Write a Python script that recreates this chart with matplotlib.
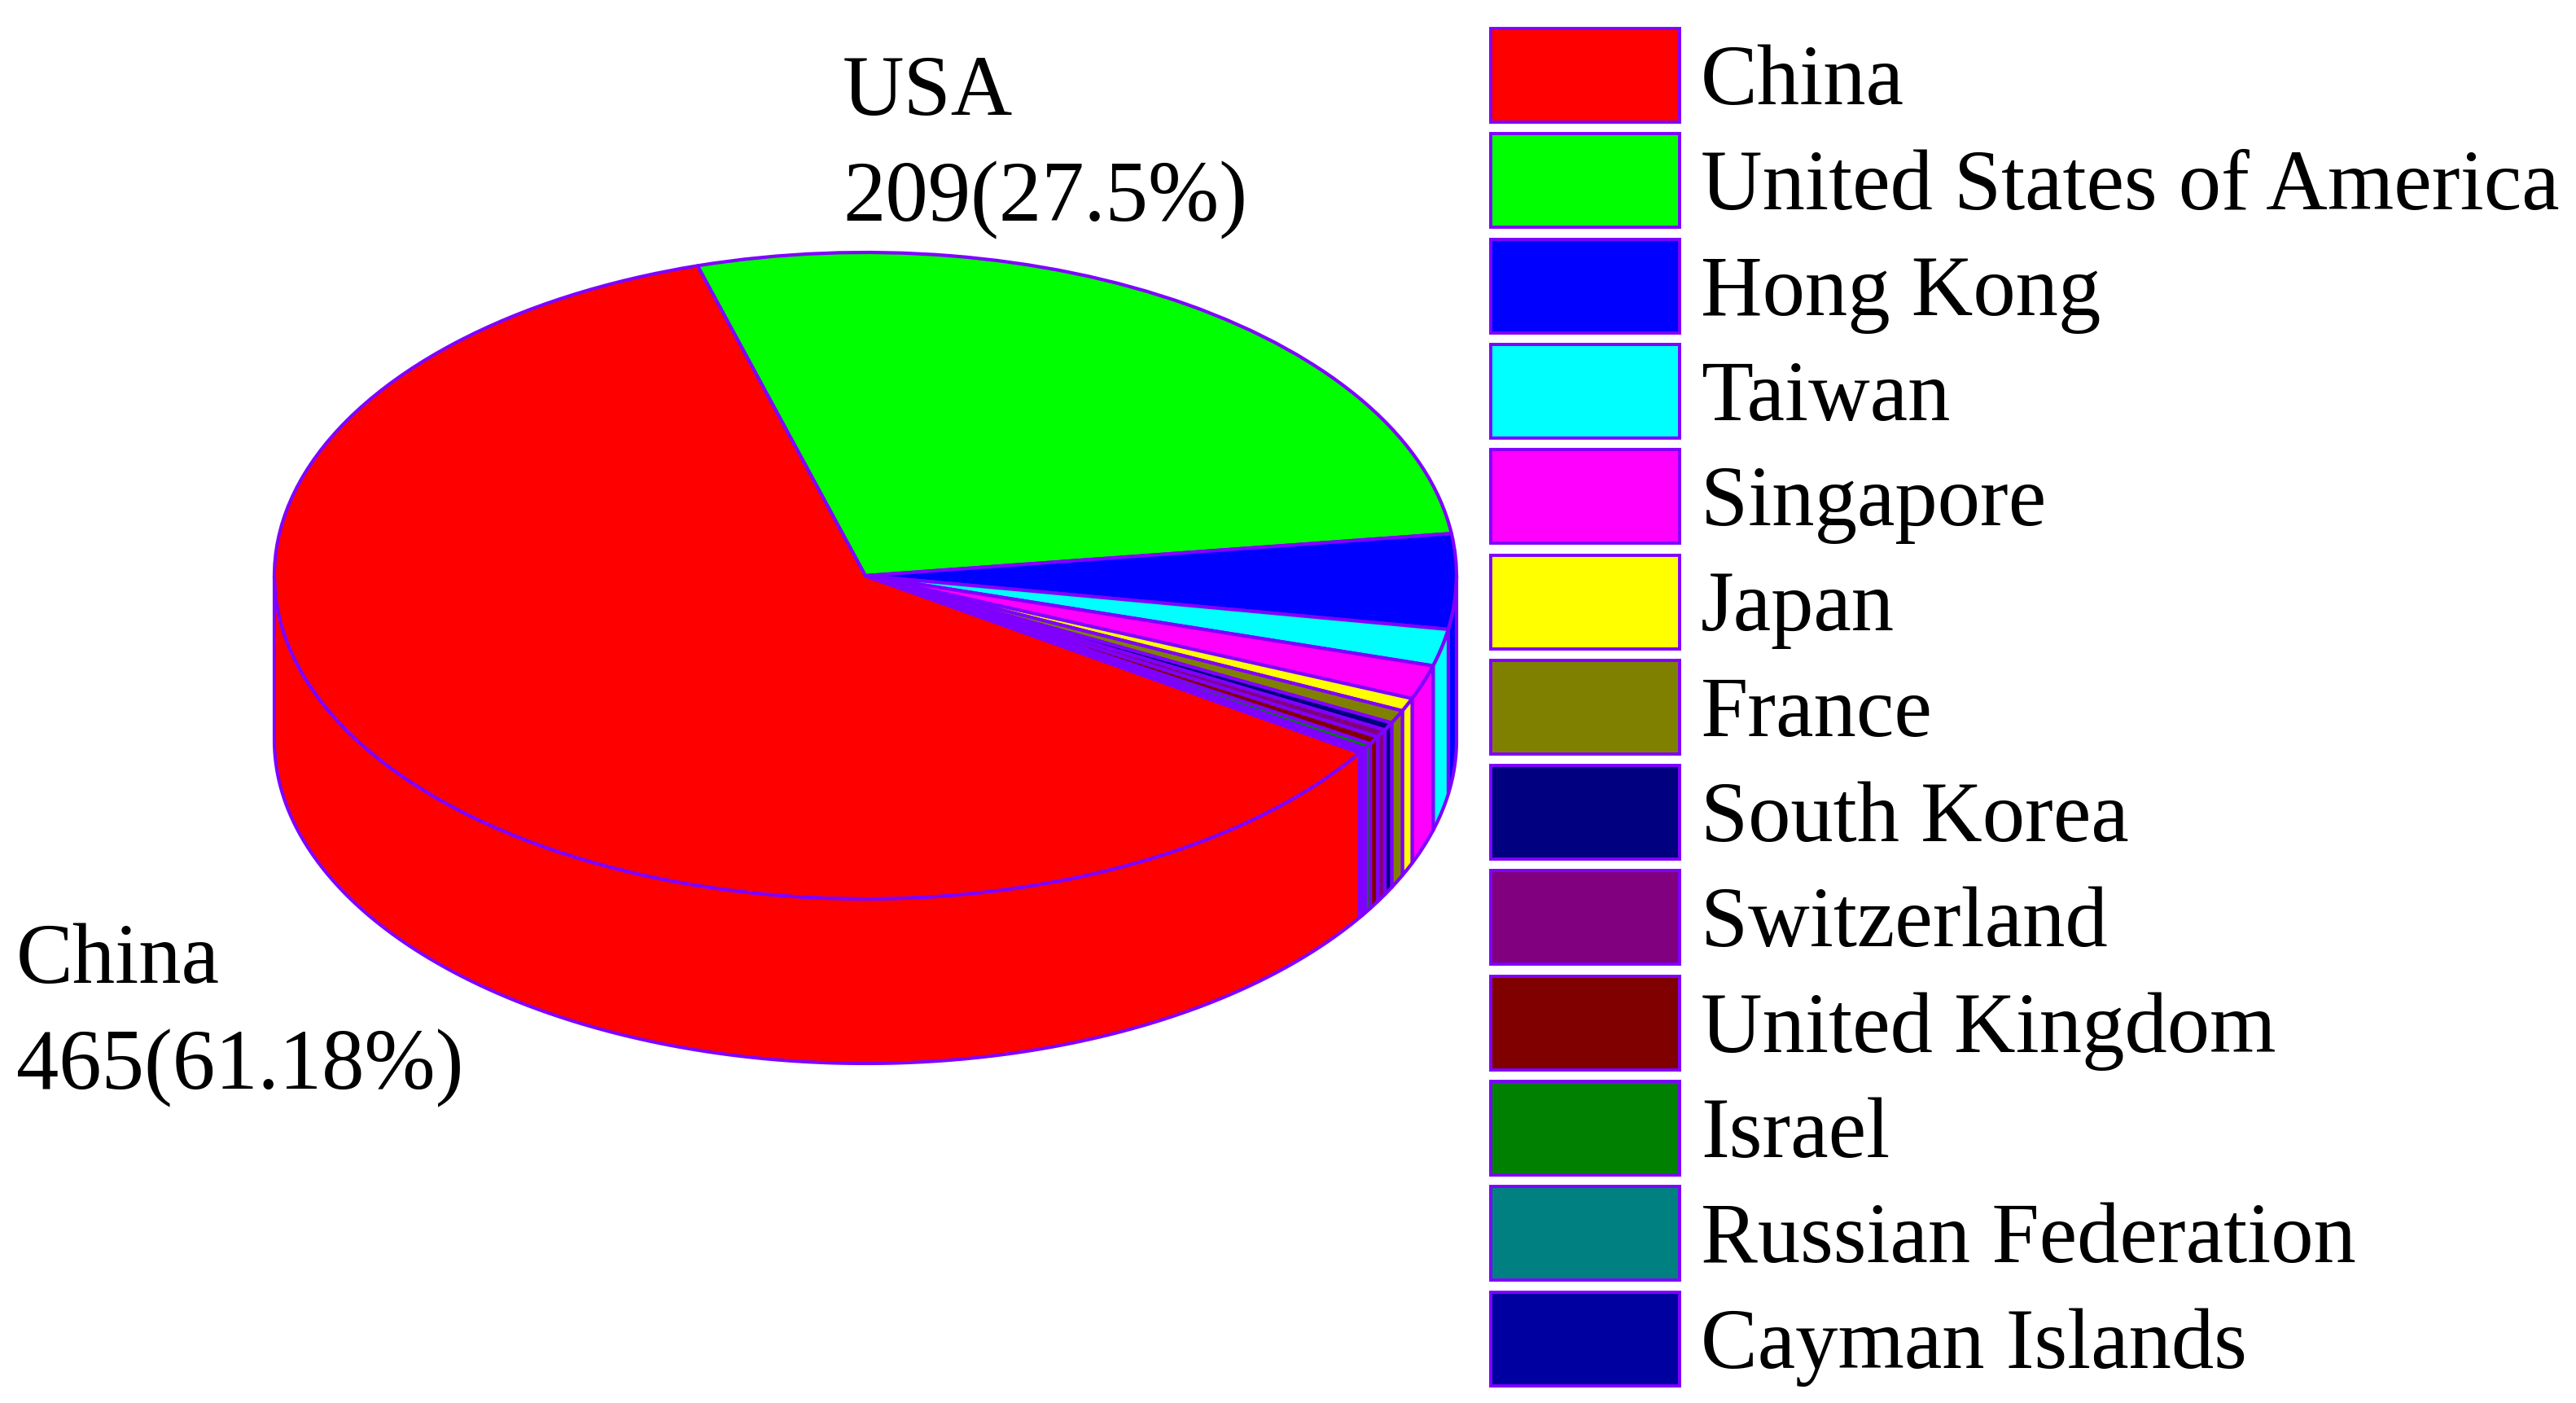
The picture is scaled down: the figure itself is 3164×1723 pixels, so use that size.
import numpy as np
import matplotlib
matplotlib.use("Agg")
import matplotlib.pyplot as plt
from matplotlib.patches import Rectangle

countries = ['China', 'United States of America', 'Hong Kong', 'Taiwan', 'Singapore', 'Japan', 'France',
             'South Korea', 'Switzerland', 'United Kingdom', 'Israel', 'Russian Federation', 'Cayman Islands']
counts = [465, 209, 36, 14, 13, 5, 5, 3, 3, 3, 2, 1, 1]
colors = ['#FF0000', '#00FF00', '#0000FF', '#00FFFF', '#FF00FF', '#FFFF00', '#808000',
          '#000080', '#800080', '#800000', '#008000', '#008080', '#0000A0']
line_color = '#8000FF'

W, H = 3164, 1724
cx, cy, rx, ry, depth = 1063, 708, 726, 397, 202
start_clock = 123.24  # degrees clockwise from top where China begins

plt.rcParams['font.family'] = ['Liberation Serif', 'DejaVu Serif']
fig = plt.figure(figsize=(W / 100, H / 100), dpi=100, facecolor='white')

# pie axes: unit circle is stretched into the top ellipse
ax = fig.add_axes([0, 0, 1, 1])
ax.pie(counts, colors=colors, startangle=90 - start_clock, counterclock=False,
       wedgeprops={'edgecolor': line_color, 'linewidth': 3.0, 'joinstyle': 'round'})
ax.set_aspect('auto')
ax.set_xlim(-cx / rx, (W - cx) / rx)
ax.set_ylim((cy - H) / ry, cy / ry)
ax.axis('off')

# side wall, only the part facing the viewer
total = sum(counts)
edges = start_clock + np.concatenate([[0], np.cumsum(counts)]) * 360 / total
drop = depth / ry
for i in range(len(counts)):
    for shift in (0, -360):
        a0 = max(edges[i] + shift, 90)
        a1 = min(edges[i + 1] + shift, 270)
        if a1 <= a0:
            continue
        t = np.radians(np.linspace(a0, a1, 200))
        x = np.sin(t)
        y = np.cos(t)
        ax.fill(np.r_[x, x[::-1]], np.r_[y, y[::-1] - drop], facecolor=colors[i],
                edgecolor=line_color, linewidth=3.0, joinstyle='round')

# overlay in image pixels for the legend and labels
over = fig.add_axes([0, 0, 1, 1])
over.set_xlim(0, W)
over.set_ylim(H, 0)
over.axis('off')

fs = 75.3
for i, name in enumerate(countries):
    top = 36 + i * 129.3
    over.add_patch(Rectangle((1831, top), 232, 115, facecolor=colors[i], edgecolor=line_color, linewidth=2.8))
    over.text(2089, top + 92, name, fontsize=fs, va='baseline', ha='left', color='black')

over.text(1035, 141, 'USA', fontsize=fs, va='baseline')
over.text(1035, 271, f'{counts[1]}({100 * counts[1] / total:.4g}%)', fontsize=fs, va='baseline')
over.text(20, 1207, 'China', fontsize=fs, va='baseline')
over.text(20, 1337, f'{counts[0]}({100 * counts[0] / total:.4g}%)', fontsize=fs, va='baseline')

fig.savefig('out.png', dpi=100, facecolor='white')
